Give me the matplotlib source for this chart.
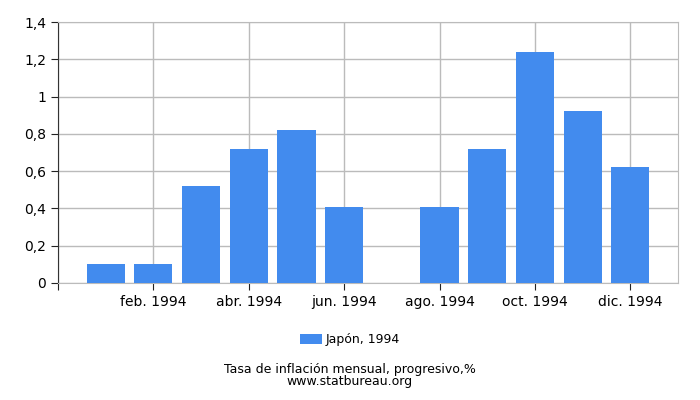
import matplotlib
matplotlib.use("Agg")
import matplotlib.pyplot as plt
from matplotlib.ticker import FuncFormatter

months = list(range(1, 13))
values = [0.10, 0.10, 0.52, 0.72, 0.82, 0.41, 0.0, 0.41, 0.72, 1.24, 0.92, 0.62]
tick_pos = [0, 2, 4, 6, 8, 10, 12]
tick_labels = ["", "feb. 1994", "abr. 1994", "jun. 1994", "ago. 1994", "oct. 1994", "dic. 1994"]
series_name = "Japón, 1994"

fig = plt.figure(figsize=(7, 4), dpi=100)
ax = fig.add_axes([58 / 700, 1 - 283 / 400, 620 / 700, 261 / 400])

ax.bar(months, values, width=0.8, color="#428bee", label=series_name, zorder=3)

ax.set_xlim(0, 13)
ax.set_ylim(0, 1.4)
ax.set_yticks([0, 0.2, 0.4, 0.6, 0.8, 1.0, 1.2, 1.4])
ax.yaxis.set_major_formatter(FuncFormatter(lambda v, p: ("%g" % round(v, 1)).replace(".", ",")))
ax.set_xticks(tick_pos)
ax.set_xticklabels(tick_labels)
ax.tick_params(axis="both", labelsize=10, color="#222222", length=5)
ax.grid(True, color="#bbbbbb", linewidth=1, zorder=0)

for s in ["top", "right", "bottom"]:
    ax.spines[s].set_color("#bbbbbb")
ax.spines["left"].set_color("#333333")

leg = fig.legend(loc="center", bbox_to_anchor=(0.5, 1 - 340 / 400), frameon=False,
                 fontsize=9, handlelength=1.7, handleheight=0.8, handletextpad=0.3)

fig.text(0.5, 1 - 369 / 400, "Tasa de inflación mensual, progresivo,%", ha="center", va="center", fontsize=9)
fig.text(0.5, 1 - 382 / 400, "www.statbureau.org", ha="center", va="center", fontsize=9)

fig.savefig("out.png", dpi=100)
